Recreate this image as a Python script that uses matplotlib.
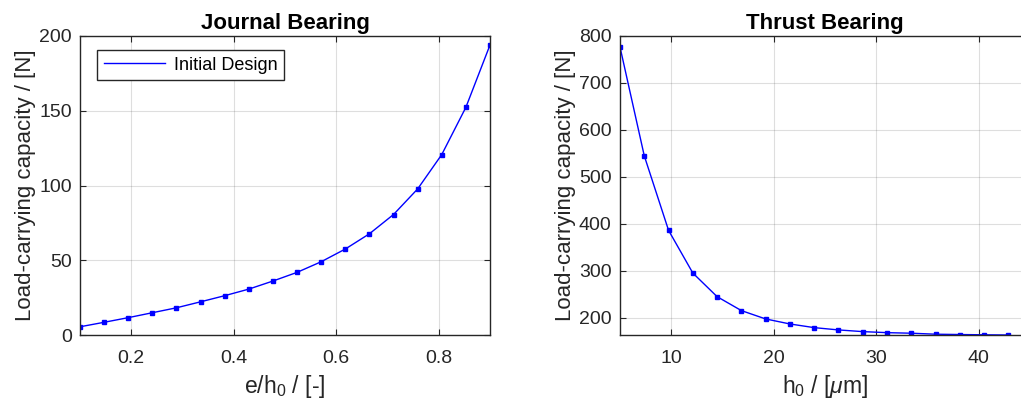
import numpy as np
import matplotlib
matplotlib.use("Agg")
from matplotlib import pyplot as plt

plt.rcParams["font.family"] = ["Liberation Sans", "DejaVu Sans"]
plt.rcParams["mathtext.fontset"] = "custom"
plt.rcParams["mathtext.rm"] = "Liberation Sans"
plt.rcParams["mathtext.it"] = "Liberation Sans:italic"

# journal bearing: eccentricity ratio vs load
journal_x = np.linspace(0.1, 0.9, 18)
journal_load = [5.5, 8.5, 11.6, 14.9, 18.2, 22.2, 26.3, 30.7, 36.1,
                41.9, 49.0, 57.5, 67.7, 80.6, 97.7, 120.7, 152.3, 194.0]

# thrust bearing: film thickness vs load (only visible points)
thrust_h = np.linspace(5, 50, 20)[:17]
thrust_load = [776.6, 544.7, 386.0, 295.0, 244.7, 215.0, 197.2, 186.5, 178.7,
               173.8, 170.2, 168.0, 166.8, 164.7, 164.0, 163.4, 163.0]

dark = "#262626"
blue = "#0000ff"

def style_axes(ax):
    ax.grid(True, color=dark, alpha=0.15, linewidth=0.8)
    ax.set_axisbelow(True)
    for s in ax.spines.values():
        s.set_color(dark)
        s.set_linewidth(1.0)
    ax.tick_params(direction="in", top=True, right=True, length=4,
                   colors=dark, labelsize=14)
    ax.tick_params(axis="x", pad=11)
    ax.tick_params(axis="y", pad=6)

fig = plt.figure(figsize=(10.21, 4.05), dpi=100)

ax1 = fig.add_axes([80 / 1021, 70 / 405, 410 / 1021, 299 / 405])
ax1.plot(journal_x, journal_load, "-s", color=blue, linewidth=1.0,
         markersize=3.2, label="Initial Design")
ax1.set_xlim(0.1, 0.9)
ax1.set_ylim(0, 200)
ax1.set_xticks([0.2, 0.4, 0.6, 0.8])
ax1.set_yticks([0, 50, 100, 150, 200])
ax1.set_title("Journal Bearing", fontsize=16, fontweight="bold", pad=5)
ax1.set_xlabel(r"e/h$_0$ / [-]", fontsize=16.5, color=dark, labelpad=4)
ax1.set_ylabel("Load-carrying capacity / [N]", fontsize=16, color=dark, labelpad=2)
style_axes(ax1)
leg = ax1.legend(loc="upper left", fontsize=13, fancybox=False,
                 edgecolor=dark, framealpha=1, handlelength=3.4,
                 borderpad=0.35, handletextpad=0.5,
                 bbox_to_anchor=(0.02, 0.982))
leg.get_frame().set_linewidth(1.0)
for h in leg.get_lines():
    h.set_marker("")

ax2 = fig.add_axes([620 / 1021, 70 / 405, 410 / 1021, 299 / 405])
ax2.plot(thrust_h, thrust_load, "-s", color=blue, linewidth=1.0, markersize=3.2)
ax2.set_xlim(5, 45)
ax2.set_ylim(163, 800)
ax2.set_xticks([10, 20, 30, 40])
ax2.set_yticks([200, 300, 400, 500, 600, 700, 800])
ax2.set_title("Thrust Bearing", fontsize=16, fontweight="bold", pad=5)
ax2.set_xlabel(r"h$_0$ / [$\mu$m]", fontsize=16.5, color=dark, labelpad=4)
ax2.set_ylabel("Load-carrying capacity / [N]", fontsize=16, color=dark, labelpad=2)
style_axes(ax2)

fig.savefig("out.png", dpi=100)
